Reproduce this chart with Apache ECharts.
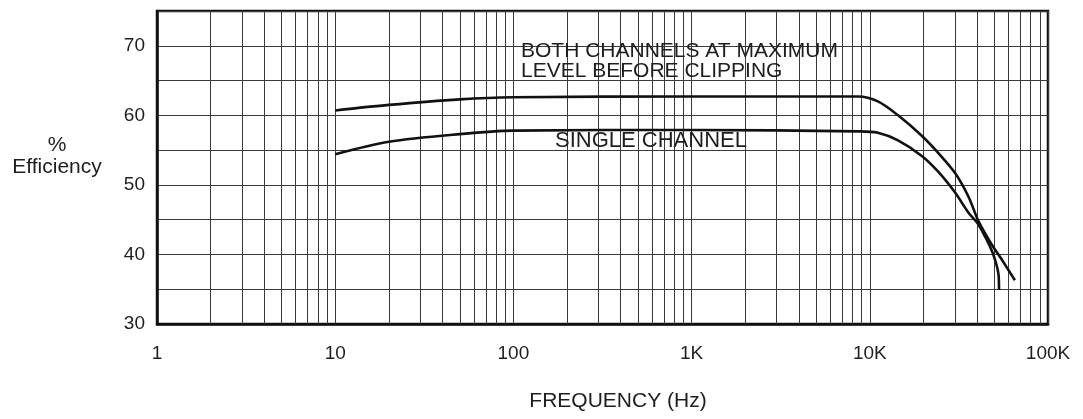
<!DOCTYPE html>
<html><head><meta charset="utf-8">
<script src="https://cdn.jsdelivr.net/npm/echarts@6/dist/echarts.min.js"></script>
<style>html,body{margin:0;padding:0;background:#fff}#c{width:1083px;height:419px}</style>
</head><body><div id="c"></div>
<script>
// Data
const bothFreq = [10, 20, 50, 100, 1000, 8600, 11100, 14400, 19500, 24200, 30100, 35800, 40700, 48400, 54900, 65200];
const bothEff  = [60.7, 61.5, 62.3, 62.6, 62.7, 62.7, 62.0, 60.0, 57.1, 54.6, 51.7, 48.3, 44.8, 41.4, 39.3, 36.3];
const singleFreq = [10, 20, 50, 100, 1000, 8600, 11100, 14400, 19500, 24200, 30100, 35800, 40700, 47300, 50500, 52700, 53100];
const singleEff  = [54.4, 56.2, 57.3, 57.8, 57.9, 57.7, 57.5, 56.4, 54.2, 51.9, 48.9, 46.0, 44.3, 41.1, 39.2, 37.2, 34.9];
const xTickLabels = ['1', '10', '100', '1K', '10K', '100K'];
const yTickLabels = ['30', '40', '50', '60', '70'];
const annotationBoth = ['BOTH CHANNELS AT MAXIMUM', 'LEVEL BEFORE CLIPPING'];
const annotationSingle = 'SINGLE CHANNEL';
const yName = '%\nEfficiency';
const xName = 'FREQUENCY (Hz)';

// log-grid minor lines (2..9 within each decade)
const minorLines = [];
for (let d = 0; d < 5; d++) for (let m = 2; m <= 9; m++) minorLines.push({ xAxis: m * Math.pow(10, d) });

const FONT = '"Liberation Sans", Arial, sans-serif';
const TXT = '#1e1e1e';
const GRIDC = '#3a3a3a';

const chart = echarts.init(document.getElementById('c'), null, { renderer: 'canvas' });
chart.setOption({
  animation: false,
  backgroundColor: '#fff',
  grid: { left: 157, right: 35, top: 11, bottom: 95, show: true, borderColor: '#111', borderWidth: 2.5, backgroundColor: 'transparent' },
  xAxis: {
    type: 'log', logBase: 10, min: 1, max: 100000,
    axisLine: { show: true, lineStyle: { color: '#111', width: 2.5 } },
    axisTick: { show: false },
    axisLabel: {
      color: TXT, fontFamily: FONT, fontSize: 19, margin: 20,
      formatter: v => xTickLabels[Math.round(Math.log10(v))] || ''
    },
    splitLine: { show: true, lineStyle: { color: GRIDC, width: 1 } },
    minorTick: { show: false }, minorSplitLine: { show: false }
  },
  yAxis: {
    type: 'value', min: 30, max: 75, interval: 5,
    axisLine: { show: true, lineStyle: { color: '#111', width: 2.5 } },
    axisTick: { show: false },
    axisLabel: {
      color: TXT, fontFamily: FONT, fontSize: 19, margin: 12,
      formatter: v => { const i = yTickLabels.indexOf(String(v)); return i >= 0 ? yTickLabels[i] : ''; }
    },
    splitLine: { show: true, lineStyle: { color: GRIDC, width: 1.2 } }
  },
  series: [
    {
      type: 'line', name: 'grid', data: [], silent: true,
      markLine: {
        silent: true, symbol: ['none', 'none'], animation: false,
        label: { show: false },
        lineStyle: { color: GRIDC, width: 1, type: 'solid' },
        emphasis: { disabled: true },
        data: minorLines
      }
    },
    {
      type: 'line', name: 'both', data: bothFreq.map((f, i) => [f, bothEff[i]]),
      smooth: 0.3, showSymbol: false, symbol: 'none',
      lineStyle: { color: '#111', width: 2.6 }, z: 5
    },
    {
      type: 'line', name: 'single', data: singleFreq.map((f, i) => [f, singleEff[i]]),
      smooth: 0.3, showSymbol: false, symbol: 'none',
      lineStyle: { color: '#111', width: 2.6 }, z: 5
    }
  ],
  graphic: [
    { type: 'text', x: 521, y: 51, z: 10, style: { text: annotationBoth[0], fill: TXT, font: '21px ' + FONT, textVerticalAlign: 'middle' } },
    { type: 'text', x: 521, y: 71, z: 10, style: { text: annotationBoth[1], fill: TXT, font: '21px ' + FONT, textVerticalAlign: 'middle' } },
    { type: 'text', x: 555, y: 141, z: 10, style: { text: annotationSingle, fill: TXT, font: '22px ' + FONT, textVerticalAlign: 'middle' } },
    { type: 'text', x: 57, y: 156, z: 10, style: { text: yName, fill: TXT, font: '21px ' + FONT, textAlign: 'center', textVerticalAlign: 'middle', lineHeight: 22 } },
    { type: 'text', x: 618, y: 401, z: 10, style: { text: xName, fill: TXT, font: '21px ' + FONT, textAlign: 'center', textVerticalAlign: 'middle' } }
  ]
});
</script>
</body></html>
